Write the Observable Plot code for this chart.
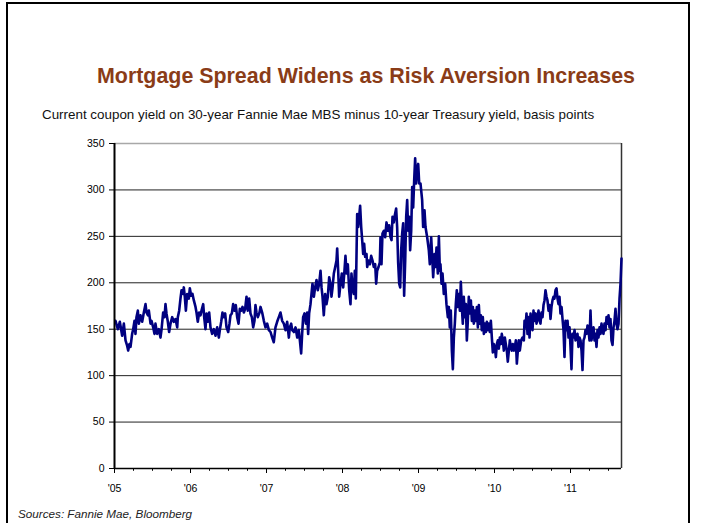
<!DOCTYPE html>
<html>
<head>
<meta charset="utf-8">
<script src="https://cdn.jsdelivr.net/npm/d3@7"></script>
<script src="https://cdn.jsdelivr.net/npm/@observablehq/plot@0.6"></script>
<style>
  body { margin: 0; background: #fff; }
  #page { position: relative; width: 701px; height: 523px; overflow: hidden; font-family: "Liberation Sans", Arial, sans-serif; }
  #frame { position: absolute; left: 6px; top: 2px; width: 680px; height: 620px; border: 2px solid #000; }
  .txt { position: absolute; white-space: nowrap; line-height: 1; }
  #title { left: 0; width: 732px; text-align: center; top: 66px; font-size: 21.4px; font-weight: bold; color: #8a3c17; }
  #subtitle { left: 42px; top: 108px; font-size: 13.4px; color: #111; }
  #source { left: 18px; top: 508px; font-size: 11.7px; font-style: italic; color: #222; }
  #chart { position: absolute; left: 0; top: 130px; }
</style>
</head>
<body>
<div id="page">
  <div id="frame"></div>
  <div id="title" class="txt"></div>
  <div id="subtitle" class="txt"></div>
  <div id="chart"></div>
  <div id="source" class="txt"></div>
</div>
<script>
const titleText = "Mortgage Spread Widens as Risk Aversion Increases";
const subtitleText = "Current coupon yield on 30-year Fannie Mae MBS minus 10-year Treasury yield, basis points";
const sourceText = "Sources: Fannie Mae, Bloomberg";

// Spread in basis points, [decimal year, value]
const spread2005 = [[2005.013,159],[2005.044,150],[2005.070,158],[2005.101,143],[2005.123,156],[2005.145,138],[2005.167,132],[2005.180,127],[2005.197,134],[2005.211,131],[2005.232,145],[2005.246,150],[2005.263,159],[2005.276,145],[2005.289,163],[2005.307,170],[2005.320,156],[2005.342,165],[2005.364,158],[2005.386,168],[2005.408,177],[2005.421,168],[2005.439,165],[2005.452,170],[2005.474,156],[2005.487,159],[2005.509,152],[2005.526,145],[2005.539,156],[2005.561,145],[2005.583,150],[2005.605,141],[2005.618,149],[2005.640,168],[2005.658,163],[2005.671,177],[2005.684,167],[2005.702,158],[2005.719,147],[2005.737,156],[2005.759,163],[2005.781,158],[2005.803,161],[2005.825,152],[2005.833,163],[2005.851,170],[2005.868,183],[2005.882,192],[2005.904,188],[2005.912,195],[2005.925,185],[2005.939,170],[2005.956,188],[2005.978,183],[2005.991,194]];
const spread2006 = [[2006.009,186],[2006.026,188],[2006.044,181],[2006.066,174],[2006.079,168],[2006.096,158],[2006.114,168],[2006.132,165],[2006.145,170],[2006.167,177],[2006.180,163],[2006.197,150],[2006.211,167],[2006.228,158],[2006.246,168],[2006.263,152],[2006.285,145],[2006.307,150],[2006.329,143],[2006.351,152],[2006.373,141],[2006.386,149],[2006.404,158],[2006.421,168],[2006.439,163],[2006.456,167],[2006.474,152],[2006.496,147],[2006.513,156],[2006.526,165],[2006.544,167],[2006.561,177],[2006.579,170],[2006.596,176],[2006.614,163],[2006.632,156],[2006.649,172],[2006.667,170],[2006.684,174],[2006.702,168],[2006.719,172],[2006.737,185],[2006.754,170],[2006.772,183],[2006.789,167],[2006.807,163],[2006.825,152],[2006.842,159],[2006.855,176],[2006.868,168],[2006.886,163],[2006.908,168],[2006.921,174],[2006.943,168],[2006.965,159],[2006.987,152]];
const spread2007 = [[2007.009,156],[2007.031,149],[2007.053,147],[2007.075,141],[2007.096,136],[2007.118,152],[2007.140,158],[2007.162,163],[2007.184,168],[2007.206,159],[2007.228,156],[2007.250,149],[2007.272,158],[2007.294,141],[2007.307,152],[2007.325,156],[2007.338,149],[2007.360,147],[2007.382,152],[2007.404,141],[2007.425,149],[2007.439,138],[2007.456,124],[2007.469,145],[2007.482,163],[2007.500,167],[2007.518,156],[2007.535,168],[2007.548,145],[2007.561,167],[2007.579,177],[2007.592,188],[2007.605,199],[2007.623,185],[2007.640,195],[2007.658,203],[2007.675,192],[2007.693,199],[2007.711,213],[2007.724,195],[2007.737,185],[2007.754,165],[2007.772,188],[2007.789,177],[2007.807,185],[2007.825,206],[2007.842,199],[2007.855,185],[2007.868,194],[2007.886,210],[2007.904,217],[2007.921,224],[2007.930,237],[2007.943,213],[2007.956,185],[2007.974,199],[2007.991,210]];
const spread2008 = [[2008.009,195],[2008.026,213],[2008.039,229],[2008.053,210],[2008.070,220],[2008.088,192],[2008.105,177],[2008.118,210],[2008.132,195],[2008.149,188],[2008.162,213],[2008.175,183],[2008.184,228],[2008.193,274],[2008.206,260],[2008.219,271],[2008.232,283],[2008.246,260],[2008.259,246],[2008.272,231],[2008.285,242],[2008.298,228],[2008.316,231],[2008.325,217],[2008.342,224],[2008.360,220],[2008.377,229],[2008.395,224],[2008.412,217],[2008.430,220],[2008.443,199],[2008.456,213],[2008.474,217],[2008.491,222],[2008.500,249],[2008.513,220],[2008.526,253],[2008.544,256],[2008.561,249],[2008.579,265],[2008.596,256],[2008.614,262],[2008.632,249],[2008.645,246],[2008.658,271],[2008.675,265],[2008.689,273],[2008.706,280],[2008.719,260],[2008.732,222],[2008.746,199],[2008.759,195],[2008.772,235],[2008.785,253],[2008.798,264],[2008.811,186],[2008.825,224],[2008.838,271],[2008.851,289],[2008.864,256],[2008.877,271],[2008.890,235],[2008.904,256],[2008.917,303],[2008.930,281],[2008.943,310],[2008.956,334],[2008.969,307],[2008.982,321],[2008.996,328]];
const spread2009 = [[2009.009,307],[2009.026,307],[2009.048,289],[2009.061,260],[2009.079,278],[2009.092,260],[2009.114,249],[2009.136,235],[2009.149,220],[2009.167,249],[2009.180,228],[2009.193,206],[2009.211,231],[2009.224,217],[2009.237,238],[2009.254,210],[2009.268,250],[2009.281,213],[2009.289,220],[2009.303,199],[2009.316,210],[2009.333,188],[2009.351,199],[2009.368,177],[2009.386,163],[2009.399,174],[2009.412,152],[2009.425,170],[2009.439,127],[2009.452,107],[2009.465,141],[2009.478,156],[2009.491,177],[2009.504,192],[2009.518,174],[2009.531,188],[2009.544,170],[2009.557,201],[2009.570,174],[2009.583,156],[2009.596,185],[2009.610,163],[2009.623,177],[2009.636,138],[2009.649,159],[2009.662,185],[2009.675,167],[2009.689,181],[2009.702,159],[2009.715,174],[2009.728,156],[2009.741,170],[2009.754,159],[2009.768,174],[2009.781,152],[2009.794,176],[2009.807,156],[2009.820,165],[2009.833,149],[2009.846,163],[2009.860,145],[2009.873,156],[2009.886,147],[2009.899,158],[2009.912,149],[2009.925,156],[2009.939,147],[2009.952,159],[2009.965,141],[2009.978,125],[2009.991,134]];
const spread2010 = [[2010.004,131],[2010.018,120],[2010.031,134],[2010.044,138],[2010.057,129],[2010.070,141],[2010.083,134],[2010.096,145],[2010.110,138],[2010.123,127],[2010.136,141],[2010.149,134],[2010.162,127],[2010.175,115],[2010.189,127],[2010.202,138],[2010.215,131],[2010.228,127],[2010.241,134],[2010.254,127],[2010.268,131],[2010.281,138],[2010.294,113],[2010.307,127],[2010.320,138],[2010.333,127],[2010.351,138],[2010.368,141],[2010.386,138],[2010.395,159],[2010.408,152],[2010.421,167],[2010.434,145],[2010.447,163],[2010.461,141],[2010.474,167],[2010.487,156],[2010.500,149],[2010.513,170],[2010.526,159],[2010.539,167],[2010.553,156],[2010.566,163],[2010.579,170],[2010.592,159],[2010.605,156],[2010.618,168],[2010.632,163],[2010.645,176],[2010.658,181],[2010.671,192],[2010.684,185],[2010.697,181],[2010.711,170],[2010.724,176],[2010.737,161],[2010.750,174],[2010.763,181],[2010.776,185],[2010.789,183],[2010.803,192],[2010.816,194],[2010.829,183],[2010.842,177],[2010.855,185],[2010.868,167],[2010.882,174],[2010.895,161],[2010.908,149],[2010.921,120],[2010.934,159],[2010.947,149],[2010.961,159],[2010.974,141],[2010.987,152]];
const spread2011 = [[2011.000,131],[2011.013,107],[2011.026,145],[2011.039,141],[2011.053,149],[2011.066,138],[2011.079,141],[2011.092,145],[2011.105,131],[2011.118,141],[2011.132,138],[2011.145,127],[2011.158,106],[2011.171,138],[2011.184,141],[2011.197,149],[2011.211,145],[2011.224,154],[2011.237,149],[2011.250,138],[2011.263,170],[2011.276,138],[2011.289,145],[2011.303,152],[2011.316,138],[2011.329,145],[2011.342,131],[2011.355,149],[2011.368,141],[2011.382,152],[2011.395,145],[2011.408,156],[2011.421,149],[2011.434,145],[2011.447,156],[2011.461,149],[2011.474,163],[2011.487,156],[2011.500,165],[2011.513,152],[2011.526,161],[2011.539,138],[2011.553,133],[2011.566,152],[2011.579,159],[2011.592,172],[2011.605,156],[2011.618,150],[2011.632,156],[2011.645,183],[2011.658,199],[2011.671,226]];

const xTicks = [2005, 2006, 2007, 2008, 2009, 2010, 2011];
const xTickLabels = ["'05", "'06", "'07", "'08", "'09", "'10", "'11"];
const yTicks = [0, 50, 100, 150, 200, 250, 300, 350];
const xDomain = [2005, 2011.671];
const yDomain = [0, 350];

document.getElementById("title").textContent = titleText;
document.getElementById("subtitle").textContent = subtitleText;
document.getElementById("source").textContent = sourceText;

const series = [...spread2005, ...spread2006, ...spread2007, ...spread2008, ...spread2009, ...spread2010, ...spread2011]
  .map(([t, v]) => ({t, v}));
const quarters = d3.range(2005.25, xDomain[1], 0.25).filter(q => q % 1 !== 0);
const gridVals = yTicks.filter(d => d > 0 && d < 350);

const chart = Plot.plot({
  width: 701,
  height: 370,
  marginLeft: 114,
  marginRight: 80,
  marginTop: 13,
  marginBottom: 32,
  style: { fontFamily: "'Liberation Sans', Arial, sans-serif", fontSize: "10.5px", color: "#000", background: "transparent", overflow: "visible" },
  x: { type: "linear", domain: xDomain, ticks: xTicks, tickFormat: d => xTickLabels[xTicks.indexOf(d)], tickSize: 5, tickPadding: 11, label: null },
  y: { domain: yDomain, ticks: yTicks, tickSize: 5, tickPadding: 5, label: null },
  marks: [
    Plot.ruleY(gridVals, { stroke: "#222", strokeWidth: 1 }),
    Plot.ruleY([350], { stroke: "#a8a8a8", strokeWidth: 1.5 }),
    Plot.ruleX([xDomain[1]], { stroke: "#333", strokeWidth: 1.5 }),
    Plot.line(series, { x: "t", y: "v", stroke: "#000080", strokeWidth: 2.6, strokeLinejoin: "round" }),
    Plot.ruleX(quarters, { x: d => d, y1: 0, y2: -3, stroke: "#000", strokeWidth: 1 }),
    Plot.ruleY([0], { stroke: "#000", strokeWidth: 1.5 }),
    Plot.ruleX([xDomain[0]], { stroke: "#000", strokeWidth: 2 })
  ]
});
document.getElementById("chart").appendChild(chart);
</script>
</body>
</html>
